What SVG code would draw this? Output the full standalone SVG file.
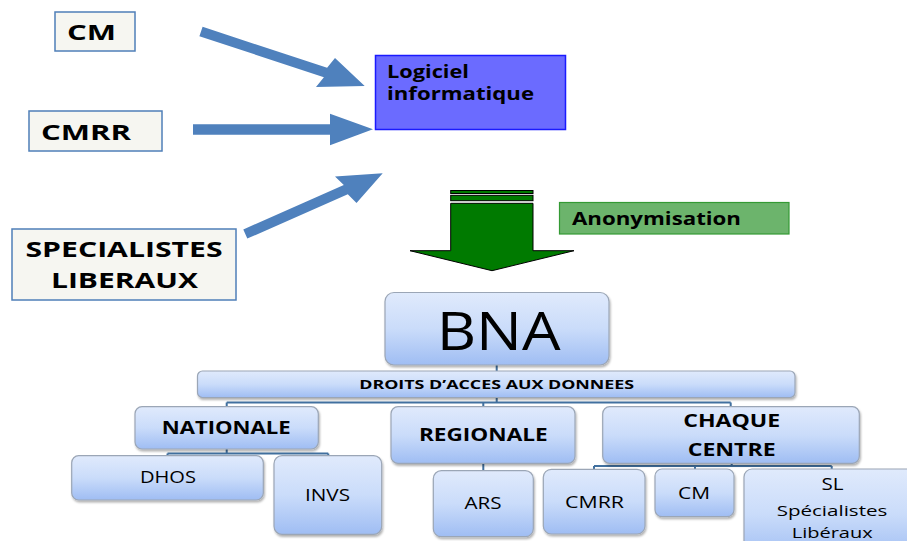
<svg xmlns="http://www.w3.org/2000/svg" width="907" height="541" viewBox="0 0 907 541">
<defs>
<linearGradient id="bg" x1="0" y1="0" x2="0" y2="1">
<stop offset="0" stop-color="#e0eafc"/>
<stop offset="0.5" stop-color="#cadcfa"/>
<stop offset="1" stop-color="#9fbdf3"/>
</linearGradient>
<filter id="sh" x="-10%" y="-10%" width="120%" height="130%">
<feDropShadow dx="1" dy="2" stdDeviation="1.2" flood-color="#000" flood-opacity="0.3"/>
</filter>
</defs>
<style>
.src{fill:#f6f6f1;stroke:#4f7fb8;stroke-width:1.5}
.blue{fill:#4f81bd}
.org{fill:url(#bg);stroke:#9ba6b6;stroke-width:1.2;filter:url(#sh)}
.conn{fill:none;stroke:#41709f;stroke-width:2}
text{font-family:"Open Sans","DejaVu Sans",sans-serif;fill:#000}
.b{font-weight:bold}
.m{text-anchor:middle}
</style>

<g id="cm-src"><rect class="src" x="55" y="12" width="80" height="39"/><text class="b" x="67" y="40" font-size="22" textLength="49" lengthAdjust="spacingAndGlyphs">CM</text></g>
<g id="cmrr-src"><rect class="src" x="29" y="111" width="133" height="40"/><text class="b" x="41" y="140" font-size="22" textLength="90" lengthAdjust="spacingAndGlyphs">CMRR</text></g>
<g id="sl-src"><rect class="src" x="12" y="229" width="224" height="71"/>
<text class="b m" x="124" y="257" font-size="22" textLength="197" lengthAdjust="spacingAndGlyphs">SPECIALISTES</text>
<text class="b m" x="124.5" y="288" font-size="22" textLength="147" lengthAdjust="spacingAndGlyphs">LIBERAUX</text></g>
<g id="logiciel"><rect x="375.5" y="55.5" width="190" height="74" fill="#6b6bff" stroke="#1a1aff" stroke-width="1.5"/>
<text class="b" x="387" y="78" font-size="17" textLength="82" lengthAdjust="spacingAndGlyphs">Logiciel</text>
<text class="b" x="387" y="100" font-size="17" textLength="147" lengthAdjust="spacingAndGlyphs">informatique</text></g>

<g id="arrows">
<polygon class="blue" points="202.6,26.8 327.1,67.8 335,58 364.7,86 316,87 323.9,77.2 199.4,36.2"/>
<polygon class="blue" points="193,124.3 330,124.3 330,113.7 373,129.3 330,145.3 330,134.7 193,134.7"/>
<polygon class="blue" points="243.3,229.4 343.8,185.1 335,176.5 382.7,173.3 356.5,203 347.8,194.3 247.3,238.6"/>
<g fill="#007a00" stroke="#000" stroke-width="1">
<rect x="450.7" y="190.5" width="82.3" height="3"/>
<rect x="450.7" y="195.3" width="82.3" height="5.4"/>
<polygon points="450.7,203.3 533,203.3 533,250.7 574,250.7 492,270.7 410,250.7 450.7,250.7"/>
</g>
</g>

<g id="anonymisation"><rect x="559.5" y="202.5" width="229.5" height="31.5" fill="#6cb46c" stroke="#349a34" stroke-width="1.2"/>
<text class="b" x="572" y="225" font-size="17" textLength="169" lengthAdjust="spacingAndGlyphs">Anonymisation</text></g>

<g id="connectors">
<path class="conn" d="M496.7,365 V402.5 M226.7,402.5 H730.7 M226.7,402.5 V407 M483.3,402.5 V407 M730.7,402.5 V407"/>
<path class="conn" d="M226.7,449 V453.5 M167.5,453.5 H328.3 M167.5,453.5 V456 M328.3,453.5 V456"/>
<path class="conn" d="M483.3,463 V471"/>
<path class="conn" d="M731.7,463 V466 M594,466 H831.7 M594,466 V469.5 M695,466 V469.5 M831.7,466 V469.5"/>
</g>

<g id="bna"><rect class="org" x="385" y="292.5" width="224" height="72.5" rx="9"/>
<text class="m" x="498.7" y="350" font-size="53" textLength="124" lengthAdjust="spacingAndGlyphs">BNA</text></g>
<g id="droits"><rect class="org" x="197.5" y="371" width="597.5" height="26.5" rx="5"/>
<text class="b m" x="496.7" y="389" font-size="13" textLength="275" lengthAdjust="spacingAndGlyphs">DROITS D’ACCES AUX DONNEES</text></g>
<g id="nationale"><rect class="org" x="135" y="406.7" width="183.3" height="42.3" rx="7"/>
<text class="b m" x="226.2" y="434" font-size="18.5" textLength="129" lengthAdjust="spacingAndGlyphs">NATIONALE</text></g>
<g id="regionale"><rect class="org" x="391" y="406.7" width="184" height="56.6" rx="7"/>
<text class="b m" x="483.3" y="441" font-size="18" textLength="128.7" lengthAdjust="spacingAndGlyphs">REGIONALE</text></g>
<g id="chaque"><rect class="org" x="602.7" y="406.7" width="256.6" height="56.6" rx="7"/>
<text class="b m" x="731.7" y="426.7" font-size="18" textLength="97" lengthAdjust="spacingAndGlyphs">CHAQUE</text>
<text class="b m" x="731.7" y="456" font-size="18" textLength="88" lengthAdjust="spacingAndGlyphs">CENTRE</text></g>
<g id="dhos"><rect class="org" x="71.7" y="455.7" width="191.6" height="44.3" rx="7"/>
<text class="m" x="168" y="483.3" font-size="16" textLength="56" lengthAdjust="spacingAndGlyphs">DHOS</text></g>
<g id="invs"><rect class="org" x="274" y="455.7" width="107.7" height="78.6" rx="8"/>
<text class="m" x="327.5" y="501" font-size="16" textLength="45" lengthAdjust="spacingAndGlyphs">INVS</text></g>
<g id="ars"><rect class="org" x="433.3" y="470.7" width="100" height="66" rx="8"/>
<text class="m" x="483" y="509.3" font-size="16" textLength="37" lengthAdjust="spacingAndGlyphs">ARS</text></g>
<g id="cmrr"><rect class="org" x="543.3" y="469.3" width="101.7" height="64.7" rx="8"/>
<text class="m" x="594.5" y="508.3" font-size="16" textLength="59" lengthAdjust="spacingAndGlyphs">CMRR</text></g>
<g id="cm"><rect class="org" x="655" y="469" width="79" height="47.7" rx="7"/>
<text class="m" x="694" y="499" font-size="16" textLength="32" lengthAdjust="spacingAndGlyphs">CM</text></g>
<g id="sl"><rect class="org" x="744" y="469" width="175" height="90" rx="8"/>
<text class="m" x="832.5" y="490" font-size="16" textLength="22" lengthAdjust="spacingAndGlyphs">SL</text>
<text class="m" x="832" y="516" font-size="15" textLength="110.7" lengthAdjust="spacingAndGlyphs">Spécialistes</text>
<text class="m" x="832.2" y="537.5" font-size="15" textLength="81" lengthAdjust="spacingAndGlyphs">Libéraux</text></g>
</svg>
